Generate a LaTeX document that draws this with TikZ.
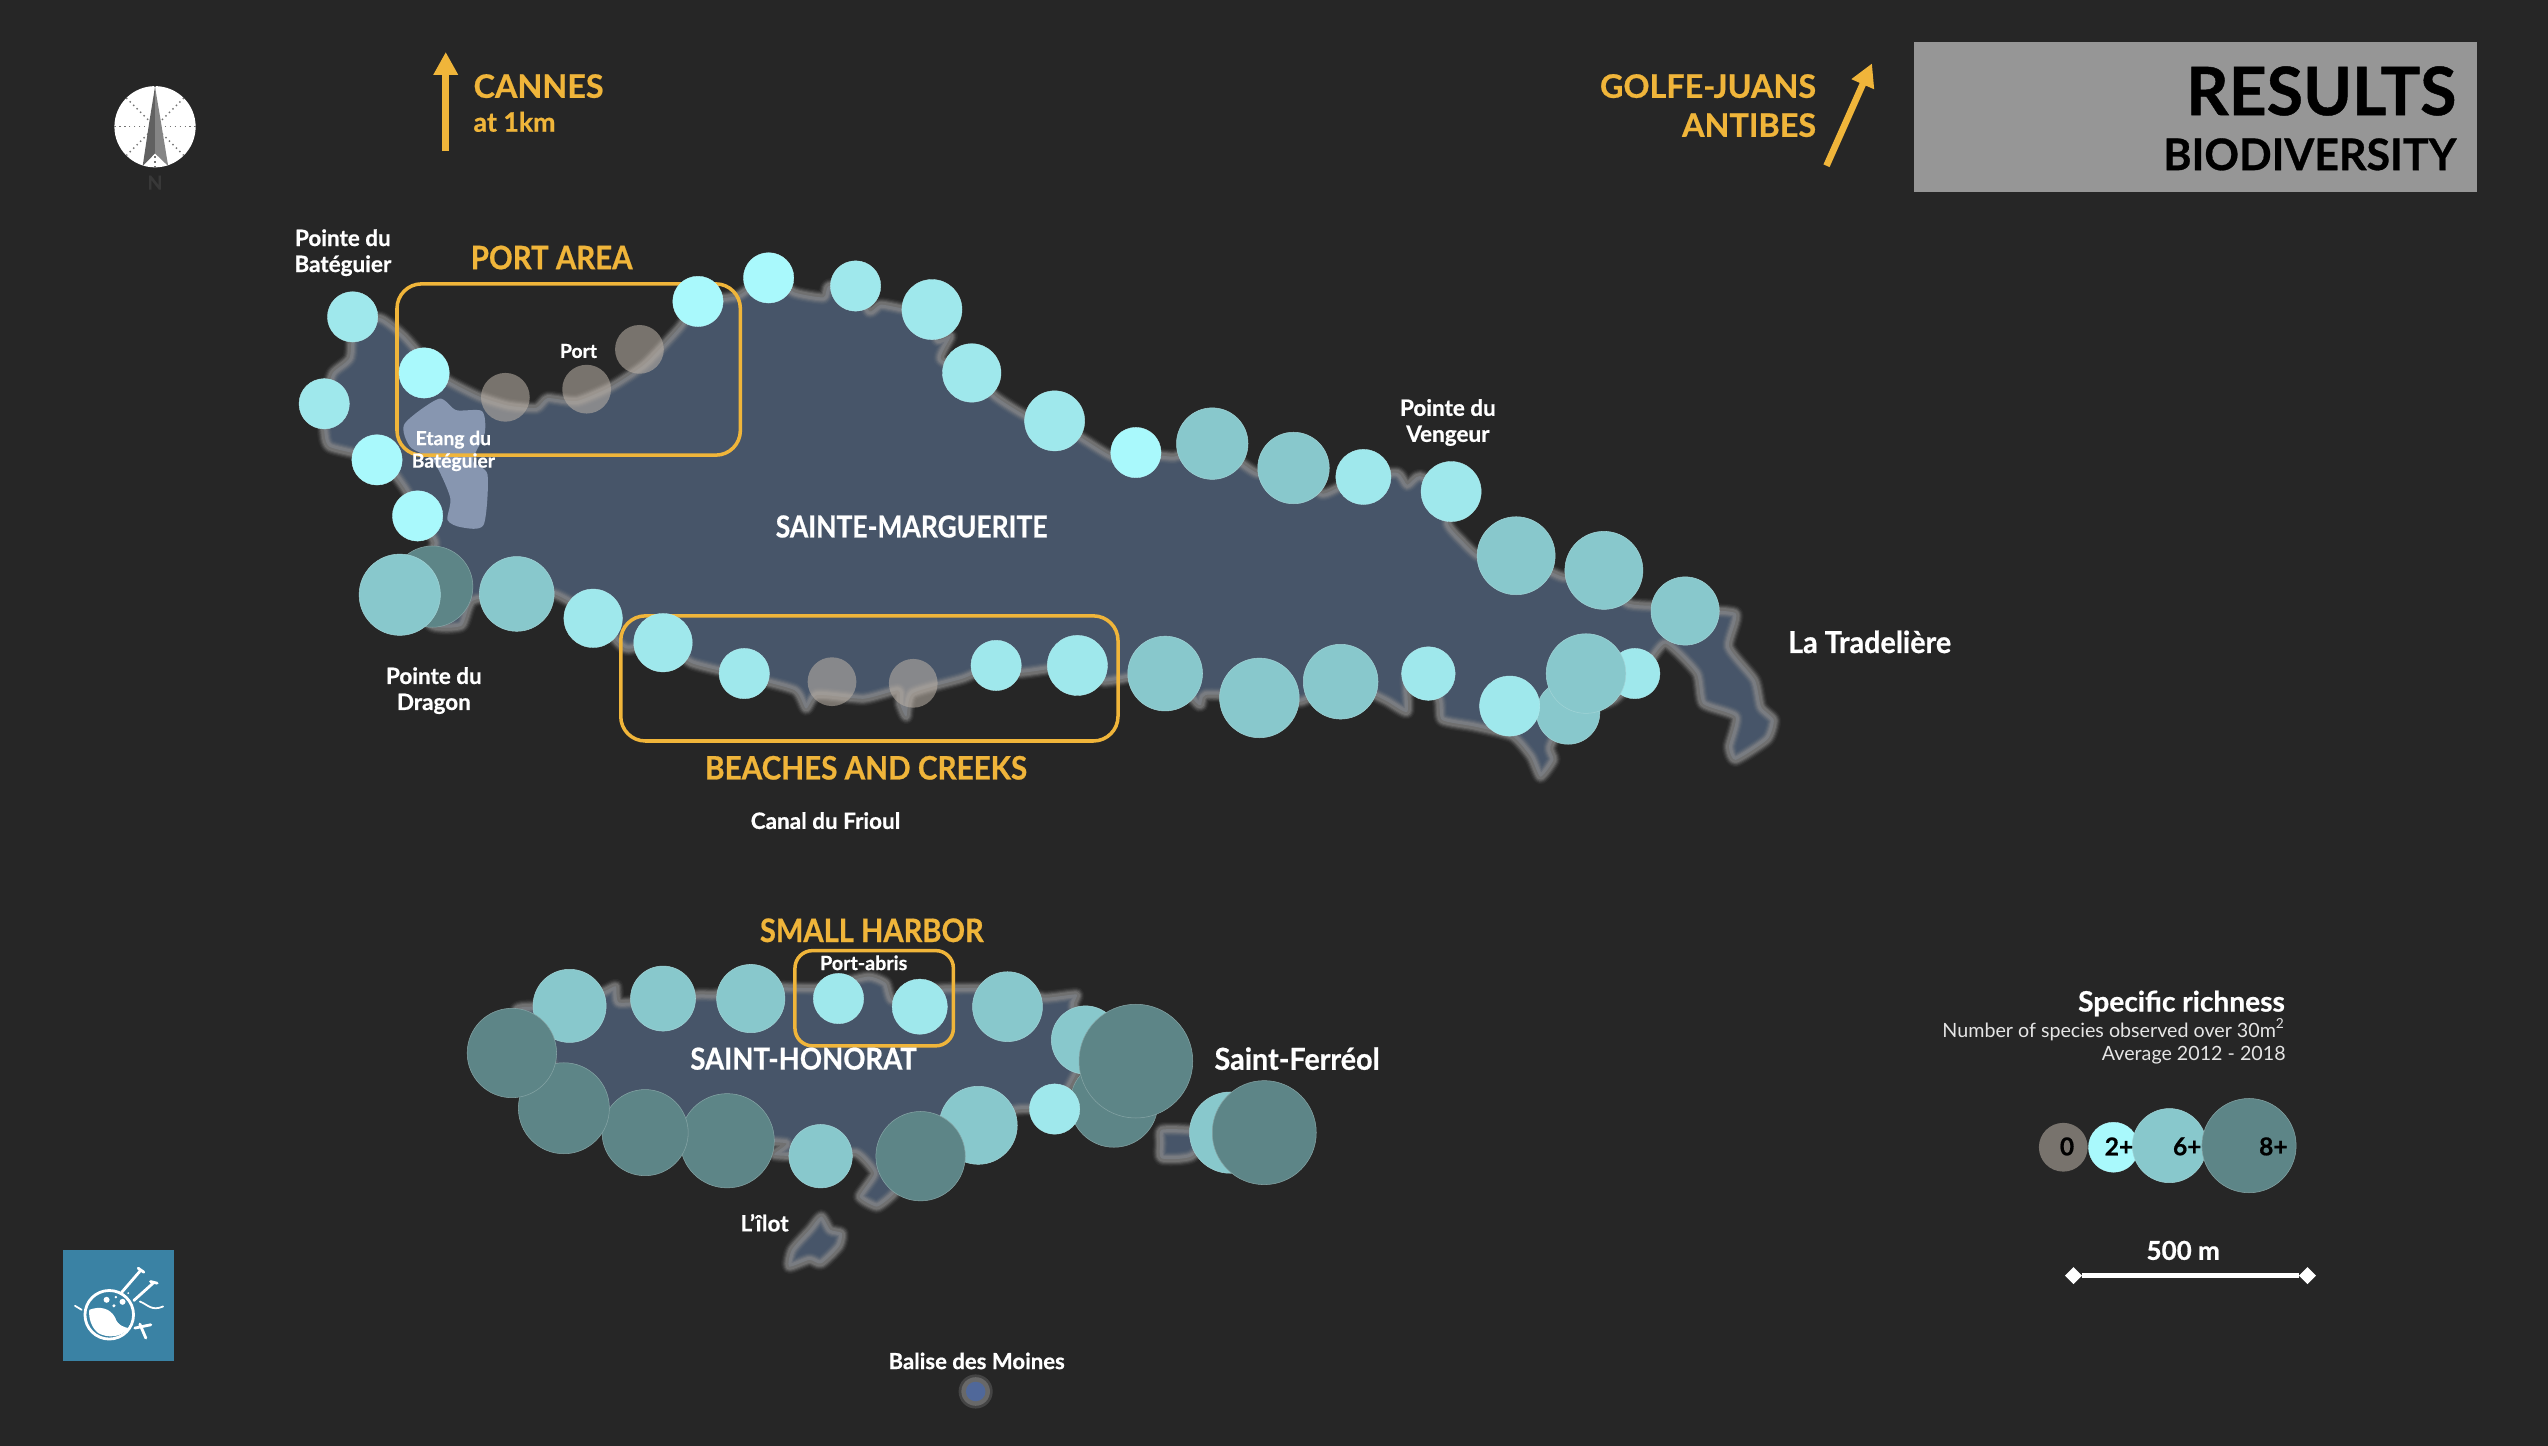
\documentclass[tikz,border=0pt]{standalone}
\usepackage{graphicx}
\usepackage{fontspec}
\setmainfont{Lato}[BoldFeatures={FakeBold=0.7}]
\usetikzlibrary{arrows.meta,shapes.geometric}
\definecolor{bgc}{HTML}{262626}
\definecolor{landc}{HTML}{475569}
\definecolor{pondc}{HTML}{8796B0}
\definecolor{coastc}{HTML}{8C8C8C}
\definecolor{brt}{HTML}{A9F9FC}
\definecolor{lig}{HTML}{9FE8EC}
\definecolor{mid}{HTML}{88C8CC}
\definecolor{drk}{HTML}{5D8587}
\definecolor{gry}{HTML}{BDB3A8}
\definecolor{gold}{HTML}{F0B53A}
\definecolor{panel}{HTML}{969696}
\definecolor{logoc}{HTML}{3A82A4}
\definecolor{balc}{HTML}{50689A}
\newcommand\fs[2]{\fontsize{#1}{#2}\selectfont}
\newcommand\hs[2]{\scalebox{#1}[1]{#2}}
\tikzset{
  dotbrt/.style={fill=brt,draw=brt!80!white,line width=.1pt},
  dotlig/.style={fill=lig,draw=lig!80!white,line width=.1pt},
  dotmid/.style={fill=mid,draw=mid!80!white,line width=.15pt},
  dotdrk/.style={fill=drk,draw=drk!75!white,line width=.15pt},
  dotgry/.style={fill=gry,fill opacity=.55},
  areabox/.style={draw=gold,line width=1pt,rounded corners=7pt,outer sep=0pt},
  goldtxt/.style={text=gold,font=\fs{9.2}{11}\bfseries,inner sep=0pt},
  whitetxt/.style={text=white,font=\fs{8.6}{10}\bfseries,inner sep=0pt},
  smalltxt/.style={text=white,font=\fs{6.4}{7.4}\bfseries,inner sep=0pt,align=center},
  goldarrow/.style={draw=gold,line width=1.9pt,-{Triangle[length=6.5pt,width=6.6pt]}},
  logoln/.style={draw=white,line width=.8pt,line cap=round},
}
\newcommand\coast[1]{%
  \draw[coastc,line width=4.2pt,opacity=.08,line join=round] #1;
  \draw[coastc,line width=3.5pt,opacity=.14,line join=round] #1;
  \draw[coastc,line width=2.9pt,opacity=.2,line join=round] #1;
  \draw[coastc,line width=2.3pt,opacity=.3,line join=round] #1;
  \draw[coastc,line width=1.7pt,opacity=.4,line join=round] #1;
}
\newcommand\margpath{plot[smooth cycle,tension=.35] coordinates {
(217.8,196)(234.7,196)(248.9,207)(266.5,227)(277,235)(294.8,244)(312.5,249.6)(330,251)(337,245)(355,246.8)(376,238)(397,224)(418,201.6)(429.8,186)
(454,182)(473,170)(489,180)(506.8,183)(510,176)(527,176)(535,191.7)(542,187.5)(556,190)(574,193)(577,209)(585,207)(579,221)(599,230)(612.7,244)(632,256)(648,258.4)(667.6,270.7)(685,281)(699,278)(722.6,281)(746,273)(773.6,291)(797,288)(813,303.6)(824.6,299.5)(840,292.7)(860,291)(866,298.4)(873.7,293)(893,302.5)(891,322)(899,332)(911,342.5)(932.6,341.5)(962,355)(985.5,352)(1001,371)(1021,373)(1037,375.3)(1068,377.4)(1064,398)(1079.8,418.4)(1083.7,435)(1091.5,443)(1087.6,455)(1068,467.6)(1064,459.4)(1068,441)(1048,433)(1044,414.3)(1025,396)(1013,410)(993,430.7)(966,439)(954,459.4)(956,467.6)(948,478)(942,465.6)(930.6,453)(907,447)(887.4,443)(885.5,430.7)(877.6,414)(866,416)(866,438)(852,430.7)(824.6,419)(801,431.7)(775.6,428.7)(742,427.6)(738,434)(716.7,414)(679.4,419.4)(663.7,409.6)(628,414)(612.7,409)(593,417.4)(561.6,426.6)(557.7,441)(553.8,433)(552.7,424.8)(531.5,430)(503,427.6)(496,436)(489,424.7)(457,416)(425.5,408)(408,395)(385,399)(365.5,379.5)(340.7,365.4)(318,365.4)(291,369.6)(284,385)(266,385)(249,365.4)(266.5,337)(266.5,331.5)(257.7,317.4)(249,300.5)(234.7,283.5)(203,275)(199.4,263.7)(199,249.6)(204.7,229.8)(215.3,220)}}
\newcommand\honpath{plot[smooth cycle,tension=.3] coordinates {
(317.7,621.5)(328.6,619.4)(350,617)(372,610)(379,607)(381,617)(408,615)(430,612)(440.5,612)(462,607)(502,608)(534,601)(545,605)(549,615.3)(567,609)(596,608)(621,608)(642.6,614)(662.5,612)(660.7,619.4)(668,652)(662.5,660.5)(650,681)(624.6,683)(603,693)(567,709.7)(550.6,734)(539.7,742.5)(529,736.3)(538,722)(527,709.7)(505.4,711.7)(476.6,710.7)(483.8,703.5)(447.7,701.5)(397,697)(346.6,683)(339.4,654)(316,648)}}
\newcommand\ferpath{plot[smooth cycle,tension=.4] coordinates {(714.8,695.3)(733,695.3)(747,697)(733,711.7)(714.8,712.8)(714,703.5)}}
\newcommand\ilotpath{plot[smooth cycle,tension=.4] coordinates {(505.4,748.6)(510.9,756.8)(518,758.9)(516.3,767)(505.4,777.4)(498,775.3)(485.6,779.4)(487.4,769)(498.2,756.8)}}
\begin{document}
\begin{tikzpicture}[x=0.01625cm,y=-0.01625cm]
\useasboundingbox (0,0) rectangle (1568,889.85);
\fill[bgc] (0,0) rectangle (1568,889.85);

% islands
\fill[landc] \margpath;
\coast{\margpath}
\fill[pondc] plot[smooth cycle,tension=.45] coordinates {(248.9,260.9)(270,245.4)(280.7,252.4)(296.6,253)(298.3,266.5)(291,283.5)(300,292)(297.6,323)(284,324.5)(275.4,320)(277,306)(266.5,283.5)(252.4,275)};
\fill[landc] \honpath;
\coast{\honpath}
\fill[landc] \ferpath;
\coast{\ferpath}
\fill[landc] \ilotpath;
\coast{\ilotpath}
\fill[coastc,opacity=.3] (600.4,856.3) circle[radius=10.5];
\fill[coastc,opacity=.5] (600.4,856.3) circle[radius=8.8];
\fill[balc] (600.4,856.3) circle[radius=6];

% area boxes
\node[areabox,minimum width=211.3*0.01625cm,minimum height=105.4*0.01625cm,anchor=north west] (boxport) at (244.3,174.7) {};
\node[areabox,minimum width=306*0.01625cm,minimum height=77*0.01625cm,anchor=north west] (boxbeach) at (382,379) {};
\node[areabox,minimum width=97.5*0.01625cm,minimum height=58.6*0.01625cm,anchor=north west,rounded corners=5pt] (boxharbor) at (489.2,585) {};

% stations
\foreach \x/\y/\r/\s in {
 217/195/15.5/dotlig,199.5/248.5/15.5/dotlig,232/283/15.5/dotbrt,257/317.5/15.5/dotbrt,266/361/25/dotdrk,246/366/25/dotmid,318/365.5/23/dotmid,365/380.5/18/dotlig,408/395.5/18/dotlig,458/414.5/15.5/dotlig,512/419.5/15/dotgry,562/420.5/15/dotgry,613/409.5/15.5/dotlig,663/409.5/18.5/dotlig,717/414.5/23/dotmid,775/429.5/24.5/dotmid,825/419.5/23/dotmid,879/414.5/16.5/dotlig,1006/414.5/15.5/dotlig,965/438.5/19.5/dotmid,976/414.5/24.5/dotmid,929/434.5/18.5/dotlig,1037/376/21/dotmid,987/351/24/dotmid,933/342/24/dotmid,893/302.5/18.5/dotlig,839/293.5/17/dotlig,796/288/22/dotmid,746/273/22/dotmid,699/278.5/15.5/dotbrt,649/259/18.5/dotlig,598/229.5/18/dotlig,573.5/190.5/18.5/dotlig,526.5/176/15.5/dotlig,473/171/15.5/dotbrt,429.5/185.5/15.5/dotbrt,393.5/215/15/dotgry,361/239.5/15/dotgry,311/244.5/15/dotgry,261/229.5/15.5/dotbrt,
 350.5/619/22.5/dotmid,408/614.5/20/dotmid,462/614.5/21/dotmid,516/614.5/15.5/dotlig,566/619.5/17/dotlig,620/619.5/21.5/dotmid,668/640/21/dotmid,685.5/679/27/dotdrk,699/653/35/dotdrk,649/682.5/15.5/dotlig,602/692.5/24/dotmid,566.5/711.5/27.5/dotdrk,505/711.5/19.5/dotmid,447.5/702/29/dotdrk,397/697/26.5/dotdrk,347/682/28/dotdrk,315/648/27.5/dotdrk,757/697/25/dotmid,778/697/32/dotdrk,
 1269.7/706/15/dotgry,1300.6/706/15.4/dotbrt,1335/705/22.8/dotmid,1384/705/29/dotdrk}
 {\fill[\s] (\x,\y) circle[radius=\r];}

% compass
\fill[white] (95.4,78) circle[radius=25];
\foreach \a in {0,45,135,180,225,270,315,90}
  \draw[black!55,line width=.4pt,densely dotted] (95.4,78) -- ++(\a:25);
\fill[black!62] (95.4,53.4) -- (91.9,74.9) -- (87.8,102.2) -- (95.4,94.4) -- cycle;
\fill[black!48] (95.4,53.4) -- (99,74.9) -- (103.5,102.2) -- (95.4,94.4) -- cycle;
\node[text=black!78,font=\fs{5.5}{6}\bfseries,inner sep=0pt] (north) at (95.4,112.4) {N};

% direction arrows
\coordinate (cannesA) at (274.3,93);
\coordinate (cannesB) at (274.3,32);
\draw[goldarrow] (cannesA) -- (cannesB);
\coordinate (juanA) at (1124,102);
\coordinate (juanB) at (1152,39);
\draw[goldarrow] (juanA) -- (juanB);
\node[goldtxt,anchor=west] (cannes) at (291,53) {CANNES};
\node[goldtxt,anchor=west,font=\fs{7.6}{9}\bfseries] (atkm) at (291,75) {at 1km};
\node[goldtxt,anchor=east] (golfe) at (1118,53) {GOLFE-JUANS};
\node[goldtxt,anchor=east] (antibes) at (1118,77) {ANTIBES};

% title panel
\node[fill=panel,outer sep=0pt,minimum width=346.4*0.01625cm,minimum height=92.2*0.01625cm,anchor=north west] (panel) at (1178,25.8) {};
\node[text=black,font=\fs{19}{22}\bfseries,inner sep=0pt,anchor=east] (results) at (1512,56) {\hs{.99}{RESULTS}};
\node[text=black,font=\fs{12.4}{15}\bfseries,inner sep=0pt,anchor=east] (biodiv) at (1512,95) {\hs{.985}{BIODIVERSITY}};

% gold labels
\node[goldtxt] (lport) at (339.5,158.5) {\hs{.91}{PORT AREA}};
\node[goldtxt] (lbeach) at (533,472.5) {\hs{.917}{BEACHES AND CREEKS}};
\node[goldtxt] (lharbor) at (536.5,572.5) {\hs{.90}{SMALL HARBOR}};

% big labels
\node[whitetxt] (marg) at (561,324) {\hs{.875}{SAINTE-MARGUERITE}};
\node[whitetxt] (hon) at (494.5,651.5) {\hs{.91}{SAINT-HONORAT}};
\node[whitetxt,anchor=west] (fer) at (747,651.5) {\hs{.95}{Saint-Ferréol}};
\node[whitetxt,anchor=west] (trad) at (1100,395) {\hs{.95}{La Tradelière}};

% small labels
\node[smalltxt] (bat) at (211,155.5) {Pointe du\\Batéguier};
\node[smalltxt,font=\fs{5.5}{6.4}\bfseries] (etang) at (279,277.5) {Etang du\\Batéguier};
\node[smalltxt,font=\fs{5.5}{6.4}\bfseries] (port) at (356,216) {Port};
\node[smalltxt] (drag) at (267,425) {Pointe du\\Dragon};
\node[smalltxt] (veng) at (891,260) {Pointe du\\Vengeur};
\node[smalltxt] (canal) at (508,505) {Canal du Frioul};
\node[smalltxt,font=\fs{5.6}{6}\bfseries] (pabris) at (531.5,592.5) {Port-abris};
\node[smalltxt] (ilot) at (470.5,752.5) {L’îlot};
\node[smalltxt,font=\fs{6.3}{7.4}\bfseries] (balise) at (601,837.5) {Balise des Moines};

% legend
\node[text=white,font=\fs{8}{10}\bfseries,inner sep=0pt,anchor=east] (ltitle) at (1406.5,617.5) {Specific richness};
\node[text=white!90!black,font=\fs{5.6}{6.45},inner sep=0pt,anchor=north east,align=right] (lsub) at (1407,626.5) {Number of species observed over 30m\textsuperscript{2}\\Average 2012 - 2018};
\node[text=black,font=\fs{7}{8}\bfseries,inner sep=0pt] (l0) at (1272,705.5) {0};
\node[text=black,font=\fs{7}{8}\bfseries,inner sep=0pt] (l2) at (1304,705.5) {2+};
\node[text=black,font=\fs{7}{8}\bfseries,inner sep=0pt] (l6) at (1346,705.5) {6+};
\node[text=black,font=\fs{7}{8}\bfseries,inner sep=0pt] (l8) at (1399,705.5) {8+};
\node[text=white,font=\fs{7.4}{9}\bfseries,inner sep=0pt] (lscale) at (1343.5,769.5) {500 m};
\node[diamond,fill=white,inner sep=0pt,outer sep=0pt,minimum size=10.5*0.01625cm] (sa) at (1276,785) {};
\node[diamond,fill=white,inner sep=0pt,outer sep=0pt,minimum size=10.5*0.01625cm] (sb) at (1420,785) {};
\draw[white,line width=1.4pt] (sa) -- (sb);

% logo
\fill[logoc] (39,769) rectangle (107,837.4);
\begin{scope}[shift={(30.8,756.9)},x=0.003333cm,y=-0.003333cm]
  \draw[logoln] (178,255) circle[radius=73];
  \fill[white] (118,240) .. controls (150,228) and (180,235) .. (195,262) .. controls (205,290) and (225,292) .. (235,295) .. controls (215,325) and (170,325) .. (145,310) .. controls (125,295) and (115,265) .. (118,240) -- cycle;
  \fill[logoc] (198,268) .. controls (215,258) and (235,265) .. (240,285) .. controls (225,292) and (205,285) .. (198,268) -- cycle;
  \draw[logoln] (215,188) -- (272,122) (265,115) -- (282,127);
  \draw[logoln] (252,212) -- (312,158) (302,155) -- (322,160);
  \fill[white] (170,210) circle[radius=9] (218,216) circle[radius=9] (198,202) circle[radius=4] (192,228) circle[radius=5] (235,190) circle[radius=3];
  \draw[draw=white,line width=.5pt,line cap=round] (270,215) .. controls (295,225) and (305,245) .. (340,230);
  \draw[logoln] (255,295) -- (303,285) (270,283) -- (288,325);
  \draw[draw=white,line width=.5pt,line cap=round] (75,228) -- (95,240);
\end{scope}
\end{tikzpicture}
\end{document}
